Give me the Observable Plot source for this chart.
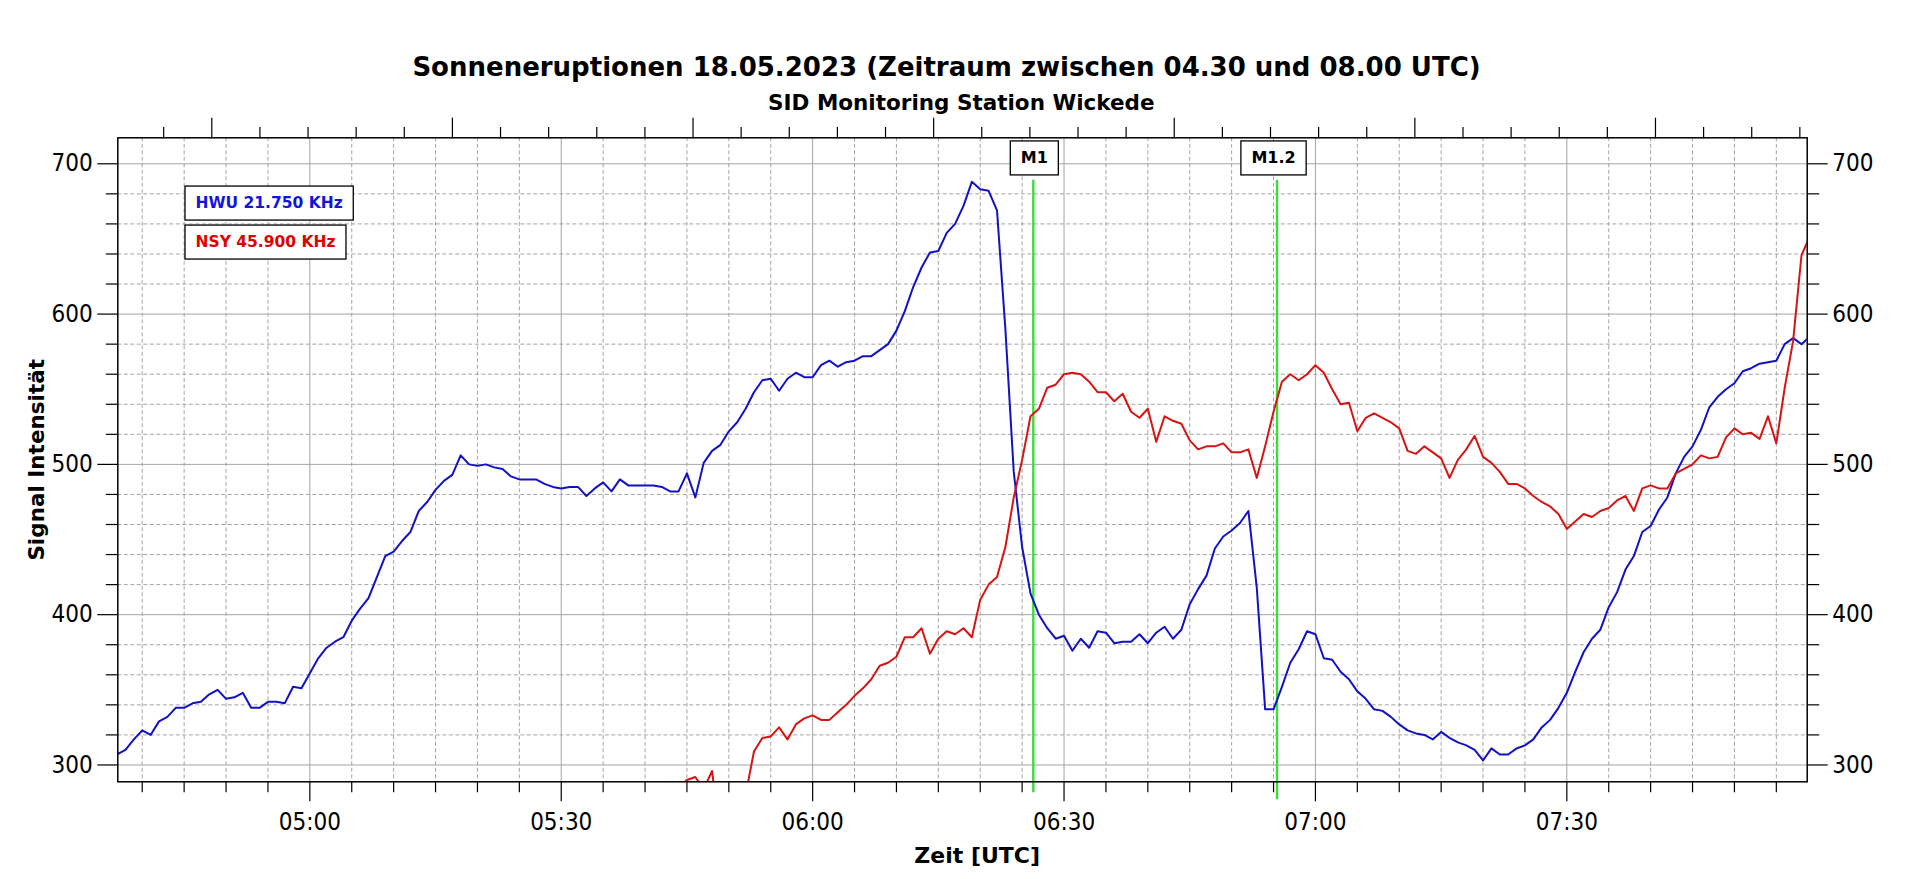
<!DOCTYPE html>
<html>
<head>
<meta charset="utf-8">
<script src="https://cdn.jsdelivr.net/npm/d3@7"></script>
<script src="https://cdn.jsdelivr.net/npm/@observablehq/plot@0.6"></script>
<style>
html, body { margin: 0; padding: 0; background: #fff; }
#chart { width: 1920px; height: 879px; }
</style>
</head>
<body>
<div id="chart"></div>
<script>
// ---------- texts ----------
const title = "Sonneneruptionen 18.05.2023 (Zeitraum zwischen 04.30 und 08.00 UTC)";
const subtitle = "SID Monitoring Station Wickede";
const xLabel = "Zeit [UTC]";
const yLabel = "Signal Intensität";
const seriesNames = ["HWU 21.750 KHz", "NSY 45.900 KHz"];

// ---------- data (one reading per minute) ----------
const hwuStart = "04:37";
const hwuValues = [
  307,310,317,323,320,329,332,338,338,341,
  342,347,350,344,345,348,338,338,342,342,
  341,352,351,361,371,378,382,385,396,404,
  411,425,439,442,449,455,469,475,483,489,
  493,506,500,499,500,498,497,492,490,490,
  490,487,485,484,485,485,479,484,488,482,
  490,486,486,486,486,485,482,482,494,478,
  501,509,513,522,528,537,548,556,557,549,
  557,561,558,558,566,569,565,568,569,572,
  572,576,580,589,602,618,631,641,642,654,
  660,672,688,683,682,669,590,495,445,414,
  400,391,384,386,376,384,378,389,388,381,
  382,382,387,381,388,392,384,390,407,417,
  426,444,452,456,461,469,418,337,337,352,
  368,377,389,387,371,370,362,357,349,344,
  337,336,332,327,323,321,320,317,322,318,
  315,313,310,303,311,307,307,311,313,317,
  325,330,338,348,362,375,384,390,405,415,
  430,439,455,459,470,478,494,505,512,523,
  538,545,550,554,562,564,567,568,569,580,
  584,580,585
];
const nsyStart = "05:44";
const nsyValues = [
  285,290,292,284,296,250,260,270,280,309,
  318,319,325,317,327,331,333,330,330,335,
  340,346,351,357,366,368,372,385,385,391,
  374,384,389,387,391,385,410,420,425,445,
  478,503,532,537,551,553,560,561,560,555,
  548,548,542,547,535,531,537,515,532,529,
  527,516,510,512,512,514,508,508,510,491,
  512,535,555,560,556,560,566,561,550,540,
  541,522,531,534,531,528,524,509,507,512,
  508,504,491,503,510,519,505,501,495,487,
  487,484,479,475,472,467,457,462,467,465,
  469,471,476,479,469,484,486,484,484,494,
  497,500,506,504,505,518,524,520,521,517,
  532,514,551,582,639,652
];

// flare markers
const flareLabels = ["M1", "M1.2"];
const flareTimes = ["06:26:20", "06:55:25"];
const flareTop = 689;
const flareTickSizes = [11, 18];
const flareLabelShift = [1, -3.5];

// axes
const xTickLabels = ["05:00", "05:30", "06:00", "06:30", "07:00", "07:30"];
const yTickLabels = [300, 400, 500, 600, 700];
const xDomain = ["04:37:05", "07:58:41"];
const yDomain = [288.8, 717.3];
const topAxisStart = "04:48:18";   // first long tick of the (unlabelled) top axis
const topAxisStepMin = 5.7426;     // spacing of the short top ticks, in minutes

// ---------- colours ----------
const lineColors = ["#1212c4", "#d61414"];
const legendColors = ["#1414e0", "#e00000"];
const flareColor = "#3cdc3c";
const gridColor = "#a4a4a4";

// ---------- build ----------
const parseT = s => {
  const [h, m, sec = 0] = s.split(":").map(Number);
  return new Date(Date.UTC(2023, 4, 18, h, m, sec));
};
const MIN = 60000;
const hwu = hwuValues.map((v, i) => ({time: new Date(+parseT(hwuStart) + i * MIN), value: v}));
const nsy = nsyValues.map((v, i) => ({time: new Date(+parseT(nsyStart) + i * MIN), value: v}));
const flares = flareLabels.map((label, i) => ({label, time: parseT(flareTimes[i])}));

const xMajor = xTickLabels.map(parseT);
const xMinor = d3.utcMinute.every(5).range(parseT("04:40"), parseT("07:56"))
  .filter(d => d.getUTCMinutes() % 30 !== 0);
const yMinor = d3.range(300, 701, 20).filter(v => v % 100 !== 0);
const topStart = +parseT(topAxisStart);
const topMinor = d3.range(-1, 34).filter(k => k % 5 !== 0).map(k => new Date(topStart + k * topAxisStepMin * MIN));
const topMajor = d3.range(0, 34, 5).map(k => new Date(topStart + k * topAxisStepMin * MIN));

const boldFont = "DejaVu Sans";
const frameCx = (117.3 + 1806.7) / 2;

const marks = [
  Plot.gridX({ticks: xMinor, stroke: gridColor, strokeOpacity: 1, strokeDasharray: "4,2.5"}),
  Plot.gridX({ticks: xMajor, stroke: gridColor, strokeOpacity: 1}),
  Plot.gridY({ticks: yMinor, stroke: gridColor, strokeOpacity: 1, strokeDasharray: "4,2.5"}),
  Plot.gridY({ticks: yTickLabels, stroke: gridColor, strokeOpacity: 1}),

  Plot.ruleX(flares, {x: "time", y1: flareTop, y2: yDomain[0], stroke: flareColor, strokeWidth: 2.4}),
  ...flares.map((f, i) => Plot.axisX({anchor: "bottom", ticks: [f.time], tickSize: flareTickSizes[i],
    stroke: flareColor, strokeWidth: 2.4, fill: "none", label: null})),

  Plot.lineY(hwu, {x: "time", y: "value", stroke: lineColors[0], strokeWidth: 2, clip: true}),
  Plot.lineY(nsy, {x: "time", y: "value", stroke: lineColors[1], strokeWidth: 2, clip: true}),

  // legend
  ...seriesNames.map((name, i) => Plot.text([name], {
    text: d => d, frameAnchor: "top-left", textAnchor: "start", lineAnchor: "middle",
    dx: 77.7, dy: 65.3 + i * 39, fill: legendColors[i],
    fontFamily: boldFont, fontWeight: "bold", fontSize: 15.5
  })),

  // flare labels
  ...flares.map((f, i) => Plot.text([f], {x: "time", text: "label", frameAnchor: "top", textAnchor: "middle",
    lineAnchor: "middle", dx: flareLabelShift[i], dy: 20.5,
    fill: "black", fontFamily: boldFont, fontWeight: "bold", fontSize: 16})),

  Plot.frame({stroke: "black", strokeWidth: 1.5}),

  // left / right y axes
  Plot.axisY({anchor: "left", ticks: yTickLabels, tickSize: 20, tickPadding: 5, label: null, strokeWidth: 1.2}),
  Plot.axisY({anchor: "left", ticks: yMinor, tickSize: 11.5, fill: "none", label: null, strokeWidth: 1.2}),
  Plot.axisY({anchor: "right", ticks: yTickLabels, tickSize: 20, tickPadding: 5, label: null, strokeWidth: 1.2}),
  Plot.axisY({anchor: "right", ticks: yMinor, tickSize: 11.5, fill: "none", label: null, strokeWidth: 1.2}),

  // bottom x axis
  Plot.axisX({anchor: "bottom", ticks: xMajor, tickSize: 20, tickPadding: 11, label: null, strokeWidth: 1.2,
    tickFormat: d3.utcFormat("%H:%M")}),
  Plot.axisX({anchor: "bottom", ticks: xMinor, tickSize: 11, fill: "none", label: null, strokeWidth: 1.2}),

  // top axis (ticks only)
  Plot.axisX({anchor: "top", ticks: topMajor, tickSize: 20.6, fill: "none", label: null, strokeWidth: 1.2}),
  Plot.axisX({anchor: "top", ticks: topMinor, tickSize: 11.3, fill: "none", label: null, strokeWidth: 1.2}),

  // titles
  Plot.text([title], {text: d => d, frameAnchor: "top", textAnchor: "middle", lineAnchor: "bottom",
    dx: 946 - frameCx, dy: 75 - 137.3,
    fontFamily: boldFont, fontWeight: "bold", fontSize: 26, fill: "black"}),
  Plot.text([subtitle], {text: d => d, frameAnchor: "top", textAnchor: "middle", lineAnchor: "bottom",
    dx: 960.8 - frameCx, dy: 109 - 137.3,
    fontFamily: boldFont, fontWeight: "bold", fontSize: 21.5, fill: "black"}),
  Plot.text([xLabel], {text: d => d, frameAnchor: "bottom", textAnchor: "middle", lineAnchor: "bottom",
    dx: 976.7 - frameCx, dy: 862.7 - 781.3,
    fontFamily: boldFont, fontWeight: "bold", fontSize: 22, fill: "black"}),
  Plot.text([yLabel], {text: d => d, frameAnchor: "left", textAnchor: "middle", lineAnchor: "middle", rotate: -90,
    dx: 37 - 117.3,
    fontFamily: boldFont, fontWeight: "bold", fontSize: 21.5, fill: "black"})
];

const chart = Plot.plot({
  width: 1920,
  height: 879,
  marginLeft: 117.3,
  marginRight: 1920 - 1806.7,
  marginTop: 137.3,
  marginBottom: 879 - 781.3,
  style: {background: "white", color: "black", fontFamily: "'DejaVu Sans Condensed','Liberation Sans',sans-serif", fontSize: "24px"},
  x: {type: "utc", domain: xDomain.map(parseT)},
  y: {domain: yDomain},
  marks
});
document.getElementById("chart").appendChild(chart);

// white boxes with black borders behind legend entries and flare labels
const boxed = new Set([...seriesNames, ...flareLabels]);
const svgNS = "http://www.w3.org/2000/svg";
const root = chart.tagName.toLowerCase() === "svg" ? chart : chart.querySelector("svg");
Array.from(root.querySelectorAll("text")).forEach(t => {
  if (!boxed.has(t.textContent)) return;
  const b = t.getBBox();
  const cy = b.y + b.height / 2;
  const padX = 10.5, h = 34;
  const rect = document.createElementNS(svgNS, "rect");
  rect.setAttribute("x", b.x - padX);
  rect.setAttribute("y", cy - h / 2);
  rect.setAttribute("width", b.width + 2 * padX);
  rect.setAttribute("height", h);
  rect.setAttribute("fill", "white");
  rect.setAttribute("stroke", "black");
  rect.setAttribute("stroke-width", "1.3");
  const tr = t.getAttribute("transform");
  if (tr) rect.setAttribute("transform", tr);
  t.parentNode.insertBefore(rect, t);
});
</script>
</body>
</html>
